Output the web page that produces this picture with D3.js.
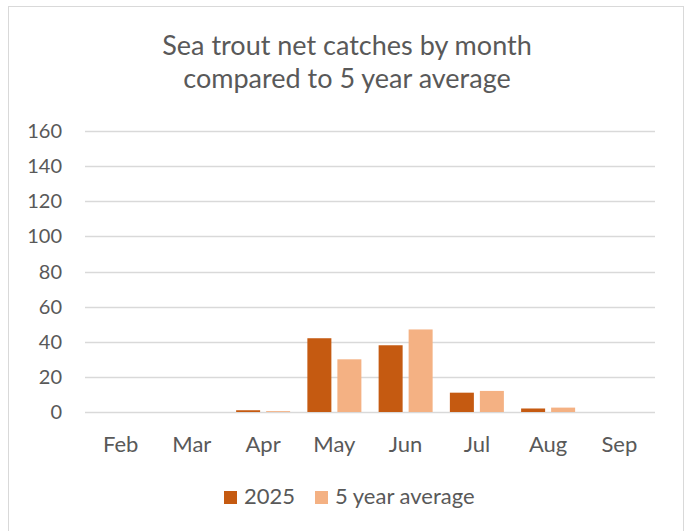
<!DOCTYPE html>
<html>
<head>
<meta charset="utf-8">
<script src="https://cdn.jsdelivr.net/npm/d3@7"></script>
<style>
  body { margin: 0; background: #fff; }
  text { font-family: Lato, "Open Sans", sans-serif; fill: #595959; }
</style>
</head>
<body>
<script>
// data
const months = ["Feb", "Mar", "Apr", "May", "Jun", "Jul", "Aug", "Sep"];
const series = ["2025", "5 year average"];
const catches2025 = [0, 0, 1, 42, 38, 11, 2, 0];
const fiveYearAvg = [0, 0, 0.5, 30, 47, 12, 2.5, 0];
const yTicks = [0, 20, 40, 60, 80, 100, 120, 140, 160];
const colors = ["#c55a11", "#f4b183"];

const width = 687, height = 531;
const plotLeft = 85, plotRight = 655, plotTop = 131, plotBottom = 412;

const svg = d3.select("body").append("svg")
    .attr("width", width)
    .attr("height", height);

// outer chart border
svg.append("rect")
    .attr("x", 8.5).attr("y", 6.5)
    .attr("width", 675).attr("height", 530)
    .attr("fill", "none")
    .attr("stroke", "#d9d9d9");

svg.append("text")
    .attr("x", 347).attr("y", 55)
    .attr("text-anchor", "middle")
    .style("font-size", "27px")
    .text("Sea trout net catches by month");
svg.append("text")
    .attr("x", 347).attr("y", 88)
    .attr("text-anchor", "middle")
    .style("font-size", "27px")
    .text("compared to 5 year average");

const y = d3.scaleLinear().domain([0, 160]).range([plotBottom, plotTop]);
const x0 = d3.scaleBand().domain(months).range([plotLeft, plotRight]).padding(0.242);
x0.paddingOuter(0.121);
const x1 = d3.scaleBand().domain(series).range([0, x0.bandwidth()]).paddingInner(0.2);

// gridlines
svg.append("g").selectAll("line")
    .data(yTicks)
  .join("line")
    .attr("x1", plotLeft).attr("x2", plotRight)
    .attr("y1", d => Math.round(y(d)) + 0.5)
    .attr("y2", d => Math.round(y(d)) + 0.5)
    .attr("stroke", "#d9d9d9")
    .attr("stroke-width", 1.5);

// y labels
svg.append("g").selectAll("text")
    .data(yTicks)
  .join("text")
    .attr("x", 62)
    .attr("y", d => y(d))
    .attr("dy", "0.35em")
    .attr("text-anchor", "end")
    .style("font-size", "20px")
    .text(d => d);

// x labels
svg.append("g").selectAll("text")
    .data(months)
  .join("text")
    .attr("x", d => x0(d) + x0.bandwidth() / 2)
    .attr("y", 452)
    .attr("text-anchor", "middle")
    .style("font-size", "22px")
    .text(d => d);

const rows = months.map((m, i) => ({ month: m, vals: [catches2025[i], fiveYearAvg[i]] }));

const groups = svg.append("g").selectAll("g")
    .data(rows)
  .join("g")
    .attr("transform", d => `translate(${x0(d.month)},0)`);

groups.selectAll("rect")
    .data(d => d.vals.map((v, i) => ({ key: series[i], value: v, i: i })))
  .join("rect")
    .attr("x", d => x1(d.key))
    .attr("y", d => y(d.value))
    .attr("width", x1.bandwidth())
    .attr("height", d => y(0) - y(d.value))
    .attr("fill", d => colors[d.i]);

// legend
const legendX = [224, 315];
const legend = svg.append("g").selectAll("g")
    .data(series)
  .join("g")
    .attr("transform", (d, i) => `translate(${legendX[i]},491)`);
legend.append("rect")
    .attr("width", 13).attr("height", 13)
    .attr("fill", (d, i) => colors[i]);
legend.append("text")
    .attr("x", 20).attr("y", 13)
    .style("font-size", "22px")
    .text(d => d);
</script>
</body>
</html>
